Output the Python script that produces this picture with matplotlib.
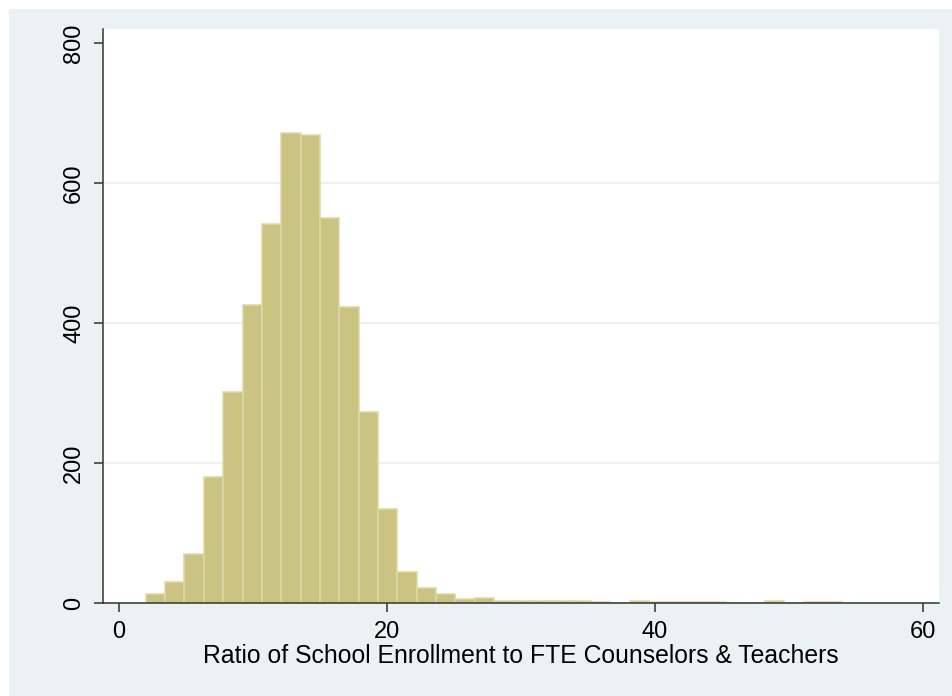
import numpy as np
import matplotlib
matplotlib.use("Agg")
import matplotlib.pyplot as plt
from matplotlib.patches import Rectangle

# Histogram of enrollment-to-staff ratio (frequency per bin)
bin_start = 2.0
bin_width = 1.444
counts = [13, 30, 70, 180, 301, 426, 541, 672, 669, 550, 423, 273,
          135, 44, 22, 13, 6, 7, 3, 3, 3, 3, 3, 1,
          0, 3, 1, 1, 1, 1, 0, 0, 3, 0, 1, 1]
x_ticks = [0, 20, 40, 60]
y_ticks = [0, 200, 400, 600, 800]
grid_levels = [200, 400, 600]
x_label = "Ratio of School Enrollment to FTE Counselors & Teachers"

plt.rcParams["font.family"] = ["Liberation Sans", "DejaVu Sans"]

W, H = 953, 696
fig = plt.figure(figsize=(W / 100, H / 100), dpi=100)
fig.patch.set_facecolor("white")
fig.add_artist(Rectangle((9 / W, 0), 1, 1 - 9 / H, transform=fig.transFigure,
                         facecolor="#EAF2F3", edgecolor="none", zorder=-5))

left, right, bottom, top = 103.3, 938.7, 603, 29
ax = fig.add_axes([left / W, 1 - bottom / H, (right - left) / W, (bottom - top) / H])
ax.set_facecolor("white")

edges = bin_start + bin_width * np.arange(len(counts))
ax.bar(edges, counts, width=bin_width, align="edge",
       facecolor="#CAC381", edgecolor="#DDD8A5", linewidth=1.1, zorder=2)

for g in grid_levels:
    ax.axhline(g, color="#EAF2F3", linewidth=1.5, zorder=1)

ax.set_xlim(-1.17, 61.17)
ax.set_ylim(0, 820)
ax.set_xticks(x_ticks)
ax.set_yticks(y_ticks)

for s in ("top", "right"):
    ax.spines[s].set_visible(False)
for s in ("left", "bottom"):
    ax.spines[s].set_color("#333333")
    ax.spines[s].set_linewidth(1.1)
    ax.spines[s].set_zorder(3)

ax.tick_params(axis="both", direction="out", length=6.5, width=1.1,
               color="#333333", labelsize=17, labelcolor="black")
ax.tick_params(axis="x", pad=6.5)
ax.tick_params(axis="y", pad=6.5)
for lab in ax.get_yticklabels():
    lab.set_rotation(90)
    lab.set_va("center")

ax.set_xlabel(x_label, fontsize=17.8, labelpad=0.5, color="black")

fig.savefig("out.png", dpi=100, facecolor=fig.get_facecolor())
